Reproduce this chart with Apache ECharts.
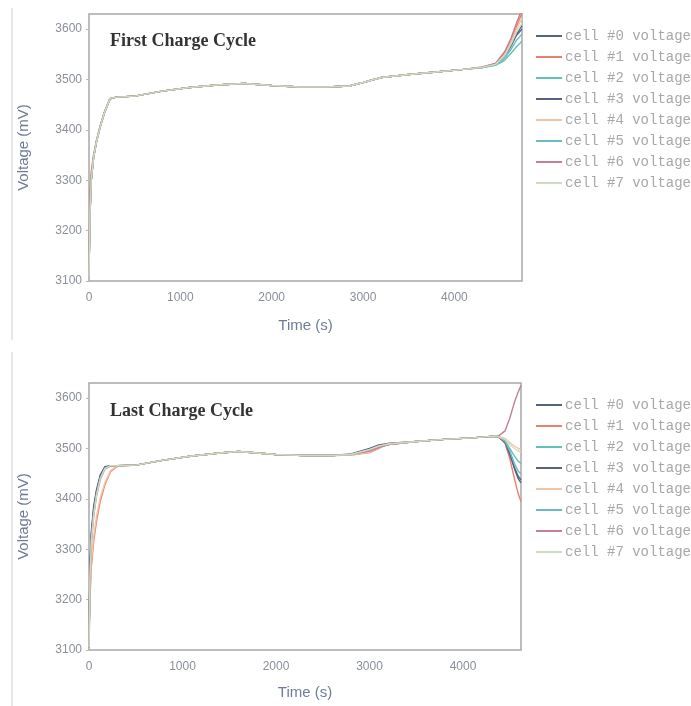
<!DOCTYPE html>
<html>
<head>
<meta charset="utf-8">
<script src="https://cdn.jsdelivr.net/npm/echarts@6/dist/echarts.min.js"></script>
<style>
  html, body { margin: 0; padding: 0; background: #ffffff; }
  #chart { width: 691px; height: 706px; }
</style>
</head>
<body>
<div id="chart"></div>
<script>
// Cell voltages (mV) over time (s) for the first and the last charge cycle.
const cellNames = ['cell #0 voltage', 'cell #1 voltage', 'cell #2 voltage', 'cell #3 voltage',
                   'cell #4 voltage', 'cell #5 voltage', 'cell #6 voltage', 'cell #7 voltage'];
const cellColors = ['#53657d', '#e8806e', '#5ec4b4', '#5a5f85', '#f3c4a3', '#6cb8c4', '#c47f90', '#cfdcc0'];

const voltageTicks = [3100, 3200, 3300, 3400, 3500, 3600];
const timeTicks = [0, 1000, 2000, 3000, 4000];

// First charge cycle
const firstTime = [0, 10, 25, 50, 80, 120, 170, 230, 300, 500, 800, 1100, 1400, 1700, 2000, 2300, 2600, 2850, 3000, 3200, 3500, 3800, 4100, 4300, 4450, 4550, 4620, 4680, 4740];
const firstCell0 = [3110, 3230, 3300, 3345, 3375, 3405, 3435, 3462, 3465, 3467, 3477, 3484, 3489, 3492, 3488, 3485, 3485, 3487, 3494, 3504, 3510, 3515, 3520, 3524, 3530, 3548, 3570, 3590, 3607];
const firstCell1 = [3120, 3280, 3318, 3350, 3378, 3407, 3436, 3462, 3465, 3467, 3477, 3484, 3489, 3492, 3488, 3485, 3485, 3487, 3494, 3504, 3510, 3515, 3520, 3524, 3532, 3552, 3578, 3605, 3632];
const firstCell2 = [3110, 3225, 3298, 3344, 3374, 3404, 3434, 3461, 3465, 3467, 3477, 3484, 3489, 3492, 3488, 3485, 3485, 3487, 3494, 3504, 3510, 3515, 3520, 3523, 3528, 3538, 3552, 3565, 3576];
const firstCell3 = [3110, 3228, 3300, 3345, 3375, 3405, 3435, 3462, 3465, 3467, 3477, 3484, 3489, 3492, 3488, 3485, 3485, 3487, 3494, 3504, 3510, 3515, 3520, 3524, 3530, 3546, 3566, 3588, 3600];
const firstCell4 = [3112, 3240, 3305, 3347, 3376, 3406, 3435, 3462, 3465, 3467, 3477, 3484, 3489, 3492, 3488, 3485, 3485, 3487, 3494, 3504, 3510, 3515, 3520, 3524, 3531, 3550, 3574, 3600, 3622];
const firstCell5 = [3110, 3226, 3299, 3344, 3374, 3404, 3434, 3461, 3465, 3467, 3477, 3484, 3489, 3492, 3488, 3485, 3485, 3487, 3494, 3504, 3510, 3515, 3520, 3523, 3529, 3542, 3560, 3578, 3590];
const firstCell6 = [3115, 3260, 3310, 3348, 3377, 3406, 3436, 3462, 3465, 3467, 3477, 3484, 3489, 3492, 3488, 3485, 3485, 3487, 3494, 3504, 3510, 3515, 3520, 3525, 3532, 3555, 3582, 3612, 3640];
const firstCell7 = [3110, 3232, 3301, 3345, 3375, 3405, 3435, 3462, 3465, 3467, 3477, 3484, 3489, 3492, 3488, 3485, 3485, 3487, 3494, 3504, 3510, 3515, 3520, 3524, 3530, 3547, 3570, 3594, 3612];

// Last charge cycle
const lastTime = [0, 10, 25, 50, 80, 120, 170, 230, 300, 500, 800, 1100, 1400, 1600, 1800, 2000, 2300, 2600, 2800, 3000, 3100, 3200, 3500, 3800, 4100, 4300, 4380, 4450, 4500, 4550, 4590, 4620];
const lastCell0 = [3105, 3260, 3330, 3380, 3415, 3445, 3463, 3466, 3466, 3467, 3477, 3485, 3491, 3494, 3491, 3488, 3486, 3486, 3488, 3497, 3503, 3508, 3514, 3518, 3521, 3524, 3523, 3512, 3490, 3460, 3440, 3432];
const lastCell1 = [3105, 3200, 3265, 3315, 3355, 3395, 3428, 3454, 3464, 3467, 3477, 3485, 3491, 3494, 3491, 3488, 3486, 3486, 3487, 3492, 3500, 3510, 3514, 3518, 3521, 3524, 3524, 3510, 3480, 3440, 3410, 3395];
const lastCell2 = [3105, 3250, 3325, 3375, 3412, 3443, 3462, 3466, 3466, 3467, 3477, 3485, 3491, 3494, 3491, 3488, 3486, 3486, 3488, 3496, 3502, 3508, 3514, 3518, 3521, 3524, 3523, 3515, 3500, 3485, 3475, 3470];
const lastCell3 = [3105, 3270, 3335, 3385, 3418, 3447, 3464, 3466, 3466, 3467, 3477, 3485, 3491, 3494, 3491, 3488, 3486, 3486, 3489, 3500, 3507, 3510, 3514, 3518, 3521, 3524, 3523, 3512, 3488, 3462, 3445, 3438];
const lastCell4 = [3105, 3210, 3275, 3325, 3365, 3402, 3432, 3456, 3465, 3467, 3477, 3485, 3491, 3494, 3491, 3488, 3486, 3486, 3487, 3493, 3501, 3509, 3514, 3518, 3521, 3524, 3524, 3520, 3512, 3505, 3500, 3498];
const lastCell5 = [3105, 3245, 3320, 3372, 3410, 3441, 3461, 3466, 3466, 3467, 3477, 3485, 3491, 3494, 3491, 3488, 3486, 3486, 3488, 3497, 3504, 3508, 3514, 3518, 3521, 3524, 3523, 3514, 3495, 3470, 3455, 3450];
const lastCell6 = [3105, 3235, 3310, 3365, 3405, 3438, 3459, 3465, 3466, 3467, 3477, 3485, 3491, 3494, 3491, 3488, 3486, 3486, 3488, 3495, 3502, 3508, 3514, 3518, 3521, 3524, 3525, 3535, 3560, 3592, 3612, 3625];
const lastCell7 = [3105, 3240, 3315, 3368, 3407, 3440, 3460, 3466, 3466, 3467, 3477, 3485, 3491, 3494, 3491, 3488, 3486, 3486, 3488, 3498, 3505, 3509, 3514, 3518, 3521, 3524, 3523, 3518, 3508, 3500, 3495, 3493];

const firstCells = [firstCell0, firstCell1, firstCell2, firstCell3, firstCell4, firstCell5, firstCell6, firstCell7];
const lastCells = [lastCell0, lastCell1, lastCell2, lastCell3, lastCell4, lastCell5, lastCell6, lastCell7];

const chart = echarts.init(document.getElementById('chart'), null, { renderer: 'canvas' });

const labelColor = '#8a8f98';
const nameColor = '#6f7c98';

function xAxisFor(gridIndex, max, nameGap) {
  return {
    type: 'value', gridIndex: gridIndex, min: 0, max: max, interval: 1000,
    name: 'Time (s)', nameLocation: 'middle', nameGap: nameGap,
    nameTextStyle: { color: nameColor, fontSize: 15, fontFamily: 'Liberation Sans' },
    axisLine: { show: false }, axisTick: { show: false }, splitLine: { show: false },
    axisLabel: {
      color: labelColor, fontSize: 12, fontFamily: 'Liberation Sans', margin: 11,
      showMaxLabel: false,
      formatter: v => timeTicks.includes(v) ? String(v) : ''
    }
  };
}

function yAxisFor(gridIndex) {
  return {
    type: 'value', gridIndex: gridIndex, min: 3100, max: 3630, interval: 100,
    name: 'Voltage (mV)', nameLocation: 'middle', nameGap: 58,
    nameTextStyle: { color: nameColor, fontSize: 15, fontFamily: 'Liberation Sans' },
    axisLine: { show: false },
    axisTick: { show: true, length: 3, lineStyle: { color: '#b8b8b8' } },
    splitLine: { show: false },
    axisLabel: {
      color: labelColor, fontSize: 12, fontFamily: 'Liberation Sans', margin: 7,
      showMaxLabel: false,
      formatter: v => voltageTicks.includes(v) ? String(v) : ''
    }
  };
}

const series = [];
cellNames.forEach((name, i) => {
  series.push({
    name: name, type: 'line', xAxisIndex: 0, yAxisIndex: 0, symbol: 'none', clip: true,
    color: cellColors[i], lineStyle: { width: 1.4, color: cellColors[i] },
    data: firstTime.map((t, k) => [t, firstCells[i][k]])
  });
});
cellNames.forEach((name, i) => {
  series.push({
    name: name, type: 'line', xAxisIndex: 1, yAxisIndex: 1, symbol: 'none', clip: true,
    color: cellColors[i], lineStyle: { width: 1.4, color: cellColors[i] },
    data: lastTime.map((t, k) => [t, lastCells[i][k]])
  });
});

function legendAt(top) {
  return {
    data: cellNames, orient: 'vertical', left: 531, top: top,
    icon: 'rect', itemWidth: 26, itemHeight: 2, itemGap: 5,
    textStyle: { color: '#a8a8a8', fontSize: 14, fontFamily: 'Liberation Mono', lineHeight: 16, padding: [0, 0, 0, -2] },
    selectedMode: false
  };
}

chart.setOption({
  backgroundColor: '#ffffff',
  animation: false,
  title: [
    { text: 'First Charge Cycle', left: 105, top: 27,
      textStyle: { fontFamily: 'Liberation Serif', fontSize: 18, fontWeight: 'bold', color: '#333' } },
    { text: 'Last Charge Cycle', left: 105, top: 397,
      textStyle: { fontFamily: 'Liberation Serif', fontSize: 18, fontWeight: 'bold', color: '#333' } }
  ],
  legend: [legendAt(23), legendAt(392)],
  grid: [
    { left: 89, top: 14, width: 433, height: 267, show: true, borderColor: '#a8a8a8', borderWidth: 1.5, backgroundColor: 'transparent' },
    { left: 89, top: 383, width: 432, height: 267, show: true, borderColor: '#a8a8a8', borderWidth: 1.5, backgroundColor: 'transparent' }
  ],
  xAxis: [xAxisFor(0, 4740, 37), xAxisFor(1, 4620, 35)],
  yAxis: [yAxisFor(0), yAxisFor(1)],
  graphic: [
    { type: 'line', shape: { x1: 12, y1: 8, x2: 12, y2: 340 }, style: { stroke: '#d0d0d0', lineWidth: 1 } },
    { type: 'line', shape: { x1: 12, y1: 352, x2: 12, y2: 706 }, style: { stroke: '#d0d0d0', lineWidth: 1 } }
  ],
  series: series
});
</script>
</body>
</html>
